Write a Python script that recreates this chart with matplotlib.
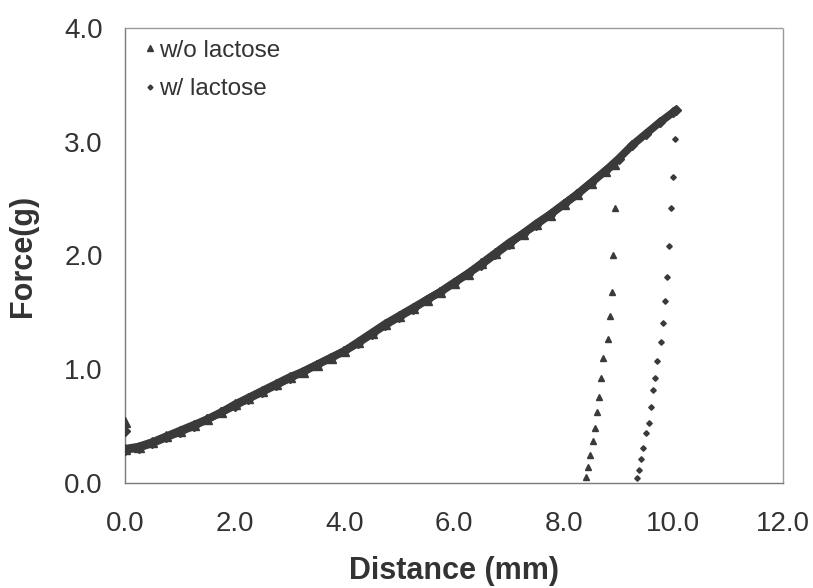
import matplotlib
matplotlib.use("Agg")
import matplotlib.pyplot as plt
from matplotlib.lines import Line2D

plt.rcParams['font.family'] = ['Liberation Sans', 'DejaVu Sans']

# Compression test: force vs. distance, loading phase and failure phase
wo_rise_mm = [0.00, 0.00, 0.25, 0.50, 0.75, 1.00, 1.25, 1.50, 1.75, 2.00, 2.25, 2.50,
              2.75, 3.00, 3.25, 3.50, 3.75, 4.00, 4.25, 4.50, 4.75, 5.00, 5.25,
              5.50, 5.75, 6.00, 6.25, 6.50, 6.75, 7.00, 7.25, 7.50, 7.75, 8.00,
              8.25, 8.50, 8.75, 8.92]
wo_rise_g = [0.54, 0.30, 0.32, 0.36, 0.41, 0.46, 0.51, 0.56, 0.62, 0.69, 0.75, 0.81,
             0.87, 0.93, 0.98, 1.04, 1.10, 1.16, 1.24, 1.32, 1.40, 1.47, 1.54,
             1.61, 1.68, 1.76, 1.84, 1.93, 2.02, 2.11, 2.19, 2.28, 2.36, 2.45,
             2.54, 2.64, 2.74, 2.80]
wo_drop_mm = [8.94, 8.90, 8.88, 8.84, 8.81, 8.72, 8.68, 8.64, 8.60, 8.57, 8.54, 8.48, 8.44, 8.40]
wo_drop_g = [2.42, 2.00, 1.68, 1.47, 1.27, 1.10, 0.92, 0.76, 0.62, 0.48, 0.37, 0.25, 0.14, 0.05]

w_rise_mm = [0.00, 0.00, 0.25, 0.50, 0.75, 1.00, 1.25, 1.50, 1.75, 2.00, 2.25, 2.50,
             2.75, 3.00, 3.25, 3.50, 3.75, 4.00, 4.25, 4.50, 4.75, 5.00, 5.25,
             5.50, 5.75, 6.00, 6.25, 6.50, 6.75, 7.00, 7.25, 7.50, 7.75, 8.00,
             8.25, 8.50, 8.75, 9.00, 9.25, 9.50, 9.75, 10.00, 10.05]
w_rise_g = [0.46, 0.29, 0.31, 0.35, 0.40, 0.45, 0.50, 0.56, 0.62, 0.68, 0.74, 0.80,
            0.86, 0.92, 0.98, 1.04, 1.10, 1.16, 1.23, 1.31, 1.39, 1.46, 1.53,
            1.61, 1.68, 1.76, 1.84, 1.92, 2.01, 2.10, 2.19, 2.27, 2.36, 2.45,
            2.54, 2.64, 2.74, 2.85, 2.97, 3.07, 3.17, 3.26, 3.28]
w_drop_mm = [10.03, 9.99, 9.96, 9.92, 9.88, 9.85, 9.81, 9.77, 9.70, 9.66, 9.63, 9.59,
             9.56, 9.50, 9.45, 9.41, 9.37, 9.34]
w_drop_g = [3.02, 2.69, 2.42, 2.08, 1.81, 1.60, 1.41, 1.24, 1.07, 0.92, 0.82, 0.67,
            0.53, 0.44, 0.31, 0.21, 0.11, 0.04]

series_names = ['w/o lactose', 'w/ lactose']
x_ticks = [0, 2, 4, 6, 8, 10, 12]
y_ticks = [0, 1, 2, 3, 4]

ink = '#3a3a3a'
text_col = '#333333'

fig = plt.figure(figsize=(8.13, 5.88), dpi=100)
ax = fig.add_axes([0.1538, 0.1786, 0.8093, 0.7738])

# dense loading data drawn as a thick band, with marker texture on top
ax.plot(w_rise_mm[1:], w_rise_g[1:], color=ink, lw=5.6, solid_capstyle='round', zorder=2)
ax.plot(wo_rise_mm[1:], wo_rise_g[1:], color=ink, lw=5.6, solid_capstyle='round', zorder=2)
ax.plot(w_rise_mm, w_rise_g, ls='none', marker='D', ms=5, color=ink, mec=ink, zorder=3)
ax.plot(wo_rise_mm, wo_rise_g, ls='none', marker='^', ms=6.5, color=ink, mec=ink, zorder=3)

# failure phase
ax.plot(wo_drop_mm, wo_drop_g, ls='none', marker='^', ms=4.5, color=ink, mec=ink, zorder=3)
ax.plot(w_drop_mm, w_drop_g, ls='none', marker='D', ms=2.8, color=ink, mec=ink, zorder=3)

ax.set_xlim(0, 12)
ax.set_ylim(0, 4)
ax.set_xticks(x_ticks)
ax.set_yticks(y_ticks)
ax.set_xticklabels([f'{v:.1f}' for v in x_ticks])
ax.set_yticklabels([f'{v:.1f}' for v in y_ticks])
ax.tick_params(axis='both', length=0, labelsize=20, colors=text_col)
ax.tick_params(axis='x', pad=20)
ax.tick_params(axis='y', pad=16)

for side in ['left', 'bottom']:
    ax.spines[side].set_color('#7a7a7a')
    ax.spines[side].set_linewidth(1.0)
for side in ['top', 'right']:
    ax.spines[side].set_color('#9a9a9a')
    ax.spines[side].set_linewidth(1.0)
    ax.spines[side].set_linestyle((0, (1, 1)))

ax.set_xlabel('Distance (mm)', fontsize=22, fontweight='bold', color=text_col, labelpad=14)
ax.set_ylabel('Force(g)', fontsize=22, fontweight='bold', color=text_col, labelpad=19)

handles = [
    Line2D([], [], ls='none', marker='^', ms=4, color=ink),
    Line2D([], [], ls='none', marker='D', ms=2.5, color=ink),
]
ax.legend(handles, series_names, loc='upper left', bbox_to_anchor=(-0.005, 1.022),
          frameon=False, fontsize=17.5, handlelength=0.5, handletextpad=0.15,
          labelspacing=0.68, labelcolor=text_col)

fig.savefig('out.png', dpi=100, facecolor='white')
